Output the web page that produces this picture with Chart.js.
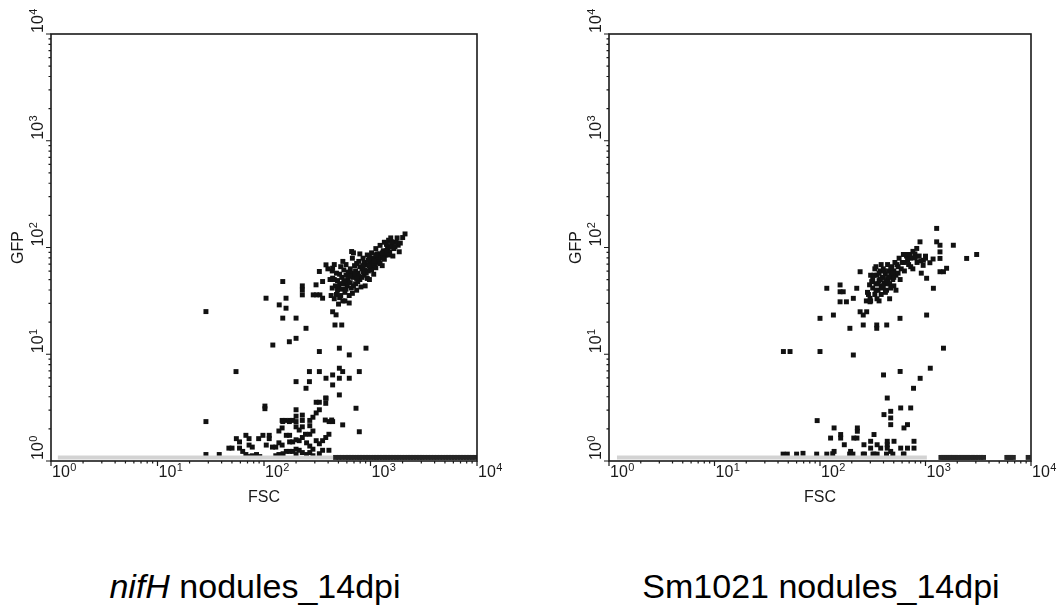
<!DOCTYPE html>
<html>
<head>
<meta charset="utf-8">
<script src="https://cdn.jsdelivr.net/npm/chart.js@4.4.0/dist/chart.umd.min.js"></script>
<style>
  body { margin: 0; background: #fff; width: 1057px; height: 605px; position: relative; overflow: hidden;
         font-family: "Liberation Sans", Arial, sans-serif; }
  canvas { position: absolute; top: 0; }
  #chart-nifh { left: 0; }
  #chart-sm { left: 528px; }
  .caption { position: absolute; top: 566px; font-size: 34px; line-height: 40px; white-space: nowrap;
             transform: translateX(-50%); color: #000; }
</style>
</head>
<body>
<canvas id="chart-nifh" width="528" height="520"></canvas>
<canvas id="chart-sm" width="529" height="520"></canvas>
<div class="caption" style="left:255px"><i>nifH</i> nodules_14dpi</div>
<div class="caption" style="left:821px">Sm1021 nodules_14dpi</div>

<script>
// axis decades and their labels (10^0 .. 10^4)
const decades = [1, 10, 100, 1000, 10000];
const tickExponents = ['0', '1', '2', '3', '4'];
const minorSteps = [2, 3, 4, 5, 6, 7, 8, 9];

// events piled up on the bottom of the GFP axis
const pileLevel = 1.08;

// ---- nifH nodules_14dpi : [FSC, GFP] ----
const nifhCluster = [
  [457,33.1],[501,29.5],[525,35.5],[490,39.8],[550,31.6],[575,38.0],[513,45.7],[457,50.1],[479,57.5],[537,52.5],
  [603,43.7],[631,35.5],[562,61.7],[617,50.1],[661,41.7],[692,52.5],[646,63.1],[589,69.2],[724,45.7],[759,57.5],
  [708,67.6],[794,50.1],[832,63.1],[776,74.1],[871,55.0],[912,69.2],[851,79.4],[955,60.3],[1000,72.4],[933,85.1],
  [1047,66.1],[1096,79.4],[1023,89.1],[1148,72.4],[1202,87.1],[1122,97.7],[1259,79.4],[1318,93.3],[1230,104.7],[1380,85.1],
  [1445,100],[1349,112],[1514,91.2],[1585,107],[1479,117],[1660,97.7],[1738,112],[1622,83.2],[1820,105],[1862,91.2],
  [676,79.4],[794,87.1],[977,50.1],[1072,56.2],[741,39.8],[525,66.1],[437,41.7],[1288,67.6],[891,43.7],[631,30.2],
  [501,41.7],[550,45.7],[589,55.0],[661,57.5],[724,60.3],[692,43.7],[794,66.1],[871,72.4],[912,57.5],[1000,63.1],
  [1047,79.4],[1148,87.1],[1202,75.9],[1318,83.2],[1413,93.3],[1549,102],[603,47.9],[479,36.3],[832,52.5],[759,47.9],
  [1096,69.2],[955,75.9],[575,31.6],[437,60.3],[398,63.1],[457,69.2],[2110,134],[2005,124],[1580,113],[665,91.7],
  [468,43.7],[513,33.9],[537,40.7],[562,49.0],[617,58.9],[646,46.8],[676,37.2],[708,56.2],[741,70.8],[776,53.7],
  [813,42.7],[851,67.6],[891,61.7],[933,51.3],[977,81.3],[1023,61.7],[1072,74.1],[1122,64.6],[1175,81.3],[1230,70.8],
  [1288,89.1],[1349,77.6],[1413,107],[1479,85.1],[1549,123],[1698,102],[1778,123],[1905,110],[490,49.0],[589,40.7],
  [741,51.3],[851,58.9],[977,67.6],[1122,85.1],[646,53.7],[513,56.2],[427,35.5],[417,50.1],[550,74.1],[692,89.1]
];
const nifhScatter = [
  [382,68.8],[331,59.6],[441,64],[150,48],[229,43.7],[229,40],[229,36],[308,44.7],[355,48],[441,51.6],
  [290,36],[312,36],[335,36],[355,33.5],[104.5,33.5],[161,33.5],[139,29],[161,27],[150,21.8],[200,21.8],
  [248,17.5],[441,25],[475,23.4],[464,18.8],[537,18.8],[200,14.1],[173,13.1],[121,12.2],[28.5,25.1],[331,10.6],
  [510,11.4],[632,9.86],[907,11.4],[54.6,6.88],[267,6.88],[331,6.88],[785,6.88],[510,7.4],[548,6.88],[200,5.54],
  [267,5.54],[382,5.96],[441,6.4],[510,5.96],[632,5.96],[248,4.8],[441,5.16],[510,4.16],[382,3.87],[731,3.12],
  [785,1.88],[548,2.18],[409,2.34],[441,2.34]
];
const nifhLow = [
  [28.5,1.15],[38.0,1.15],[46.8,1.32],[55.0,1.62],[58.9,1.32],[63.1,1.23],[67.6,1.15],[72.4,1.10],[77.6,1.12],[85.1,1.15],
  [91.2,1.10],[67.6,1.74],[72.4,1.62],[72.4,1.41],[77.6,1.35],[97.7,1.74],[112,1.74],[112,1.62],[120,1.35],[129,1.35],
  [138,1.48],[148,1.41],[138,1.91],[148,2.04],[148,2.40],[158,2.40],[174,2.40],[186,2.40],[162,1.74],[174,1.74],
  [162,1.23],[174,1.23],[186,1.23],[151,1.17],[174,1.51],[186,1.51],[200,3.02],[200,2.63],[200,2.34],[229,2.69],
  [229,2.40],[200,2.09],[214,1.95],[229,2.09],[200,1.58],[214,1.55],[229,1.66],[245,1.78],[200,1.29],[214,1.26],
  [200,1.15],[229,1.20],[251,1.48],[269,1.38],[288,1.29],[269,1.20],[288,1.12],[251,1.15],[269,2.40],[288,2.57],
  [309,2.82],[331,3.02],[269,2.14],[288,1.91],[269,1.78],[309,1.55],[331,1.45],[355,1.55],[380,1.66],[407,1.78],
  [355,1.26],[331,1.17],[407,1.26],[376,2.42],[432,2.42],[309,3.55],[331,3.55],[380,3.47],[380,3.89],[102,3.27],
  [102,3.09],[50.1,1.32],[58.9,1.51],[89.1,1.62],[105,1.41],[129,1.12],[138,1.15],[28.5,2.34],[150,2.34],[173,2.34]
];
const nifhPileX = [470,505,540,585,620,660,700,750,790,840,900,950,1010,1080,1140,1210,1290,1370,1450,1540,
  1640,1750,1850,1980,2100,2240,2380,2530,2700,2880,3050,3250,3480,3700,3950,4200,4480,4780,5100,5420,
  5780,6150,6550,7000,7450,7950,8450,9000,9550];
const nifhBand = [1.16, 445];

// ---- Sm1021 nodules_14dpi : [FSC, GFP] ----
const smCluster = [
  [282,38.0],[295,44.7],[316,41.7],[316,50.1],[331,36.3],[339,45.7],[347,55.0],[355,39.8],[363,49.0],[372,60.3],
  [380,43.7],[389,52.5],[398,63.1],[407,46.8],[417,56.2],[427,39.8],[437,50.1],[447,60.3],[457,45.7],[468,55.0],
  [479,66.1],[490,50.1],[501,60.3],[513,72.4],[525,55.0],[550,66.1],[562,79.4],[575,50.1],[603,72.4],[631,60.3],
  [661,83.2],[692,69.2],[724,79.4],[759,63.1],[794,87.1],[832,72.4],[871,83.2],[912,57.5],[955,75.9],[1000,79.4],
  [302,55.0],[331,63.1],[380,69.2],[417,38.0],[457,33.1],[501,43.7],[363,31.6],[302,31.6],[275,31.6],[525,39.8],
  [380,36.3],[437,69.2],[339,66.1],[398,52.5],[468,63.1],[550,57.5],[631,72.4],[724,66.1],[501,52.5],[355,45.7],
  [417,45.7],[309,47.9],[324,55.0],[339,39.8],[372,50.1],[389,41.7],[407,60.3],[427,47.9],[447,52.5],[468,41.7],
  [490,57.5],[537,69.2],[589,63.1],[676,75.9],[288,36.3],[347,33.1],[398,43.7],[363,57.5]
];
const smScatter = [
  [1276,151],[887,113],[1276,113],[1372,105],[1372,91],[1372,79],[1836,105],[2455,79],[3055,86],[826,98],
  [617,86],[660,86],[711,86],[1372,59.3],[1480,59.3],[1585,63.9],[1025,51.5],[1188,41.5],[573,21.7],[1025,23.3],
  [760,92],[800,80],[900,75],[950,68],[1100,72],[1180,78],[1000,83],
  [240,59.3],[155,44.6],[155,38.5],[166,38.5],[116,41.5],[223,41.5],[155,31],[178,31],[207,33.4],[298,33.4],
  [298,31],[100,21.7],[134,23.3],[240,25],[257,23.3],[277,25],[192,17.5],[257,18.8],[345,18.8],[345,17.5],
  [429,18.8],[45,10.6],[52,10.6],[100,10.6],[207,9.84],
  [1480,11.4],[1110,7.4],[890,5.95],[770,4.8],[575,6.9],[400,6.4],[434,3.89],[404,2.72],[468,2.92],[468,2.53],
  [468,2.19],[582,3.14],[724,3.14],[625,2.04],[675,2.19]
];
const smLow = [
  [94,2.39],[136,2.04],[126,1.64],[157,1.77],[157,1.64],[170,1.42],[136,1.23],[226,2.04],[226,1.90],[209,1.64],
  [224,1.64],[195,1.23],[261,1.42],[302,1.53],[302,1.32],[325,1.77],[348,1.42],[376,1.32],[434,1.53],[434,1.42],
  [434,1.32],[503,1.53],[468,1.23],[582,1.32],[675,1.32],[778,1.32],[778,1.53],[625,1.16],[325,1.16],[348,1.16],
  [264,1.16],[44.7,1.16],[49,1.16],[60,1.16],[69,1.18],[93,1.16],[116,1.16],[132,1.17],[191,1.16],[205,1.16],
  [257,1.16],[318,1.16],[427,1.16],[490,1.16],[617,1.16]
];
const smPileX = [1400,1460,1530,1600,1680,1760,1850,1950,2050,2160,2280,2400,2530,2670,2820,2980,3150,3350,3550,
  5900,6150,6450,6800,9400];
const smBand = [1.19, 1030];

function drawPower(ctx, x, y, exp) {
  ctx.font = '16px "Liberation Sans", Arial, sans-serif';
  ctx.fillText('10', x, y);
  const w = ctx.measureText('10').width;
  ctx.font = '11px "Liberation Sans", Arial, sans-serif';
  ctx.fillText(exp, x + w + 0.5, y - 6);
}

// box, log ticks and axis labels of the cytometer plot
const axisFrame = {
  id: 'axisFrame',
  afterDatasetsDraw(chart, args, opts) {
    const { ctx, chartArea: a } = chart;
    const xs = chart.scales.x, ys = chart.scales.y;
    ctx.save();
    ctx.strokeStyle = '#1a1a1a';
    ctx.lineWidth = 1.6;
    ctx.strokeRect(a.left, a.top, a.right - a.left, a.bottom - a.top);

    ctx.lineWidth = 1.2;
    ctx.beginPath();
    decades.forEach((d, i) => {
      const px = xs.getPixelForValue(d), py = ys.getPixelForValue(d);
      ctx.moveTo(px, a.bottom); ctx.lineTo(px, a.bottom + 5);
      ctx.moveTo(a.left, py); ctx.lineTo(a.left - 5, py);
      if (i === decades.length - 1) return;
      minorSteps.forEach(m => {
        const mx = xs.getPixelForValue(d * m), my = ys.getPixelForValue(d * m);
        ctx.moveTo(mx, a.bottom); ctx.lineTo(mx, a.bottom + 2.5);
        ctx.moveTo(a.left, my); ctx.lineTo(a.left - 2.5, my);
      });
    });
    ctx.stroke();

    ctx.fillStyle = '#1a1a1a';
    ctx.textAlign = 'left';
    ctx.textBaseline = 'alphabetic';
    decades.forEach((d, i) => {
      drawPower(ctx, xs.getPixelForValue(d) + 1, a.bottom + 16, tickExponents[i]);
      ctx.save();
      ctx.translate(a.left - 8, ys.getPixelForValue(d));
      ctx.rotate(-Math.PI / 2);
      drawPower(ctx, 1, 0, tickExponents[i]);
      ctx.restore();
    });

    ctx.font = '16px "Liberation Sans", Arial, sans-serif';
    ctx.textAlign = 'center';
    ctx.fillText(opts.xTitle, (a.left + a.right) / 2, a.bottom + 41);
    ctx.save();
    ctx.translate(a.left - 28, (a.top + a.bottom) / 2);
    ctx.rotate(-Math.PI / 2);
    ctx.fillText(opts.yTitle, 0, 0);
    ctx.restore();
    ctx.restore();
  }
};

function makePanel(id, cluster, scatter, low, pileX, band, padding) {
  const dot = { pointStyle: 'rect', pointRadius: 3.5, borderWidth: 0, showLine: false };
  return new Chart(document.getElementById(id), {
    type: 'scatter',
    plugins: [axisFrame],
    data: {
      datasets: [
        {
          data: [[band[0], pileLevel], [band[1], pileLevel]],
          showLine: true, borderColor: '#d3d3d3', borderWidth: 4, pointRadius: 0
        },
        { ...dot, data: pileX.map(x => [x, pileLevel]), backgroundColor: '#262626' },
        { ...dot, data: low, backgroundColor: '#111' },
        { ...dot, data: scatter, backgroundColor: '#111' },
        { ...dot, data: cluster, backgroundColor: '#111' }
      ]
    },
    options: {
      responsive: false,
      animation: false,
      events: [],
      layout: { padding: padding },
      scales: {
        x: { type: 'logarithmic', min: 1, max: 10000, display: false },
        y: { type: 'logarithmic', min: 1, max: 10000, display: false }
      },
      plugins: {
        legend: { display: false },
        tooltip: { enabled: false },
        axisFrame: { xTitle: 'FSC', yTitle: 'GFP' }
      }
    }
  });
}

makePanel('chart-nifh', nifhCluster, nifhScatter, nifhLow, nifhPileX, nifhBand,
  { left: 51, top: 34, right: 51, bottom: 59 });
makePanel('chart-sm', smCluster, smScatter, smLow, smPileX, smBand,
  { left: 81, top: 34, right: 26, bottom: 59 });
</script>
</body>
</html>
